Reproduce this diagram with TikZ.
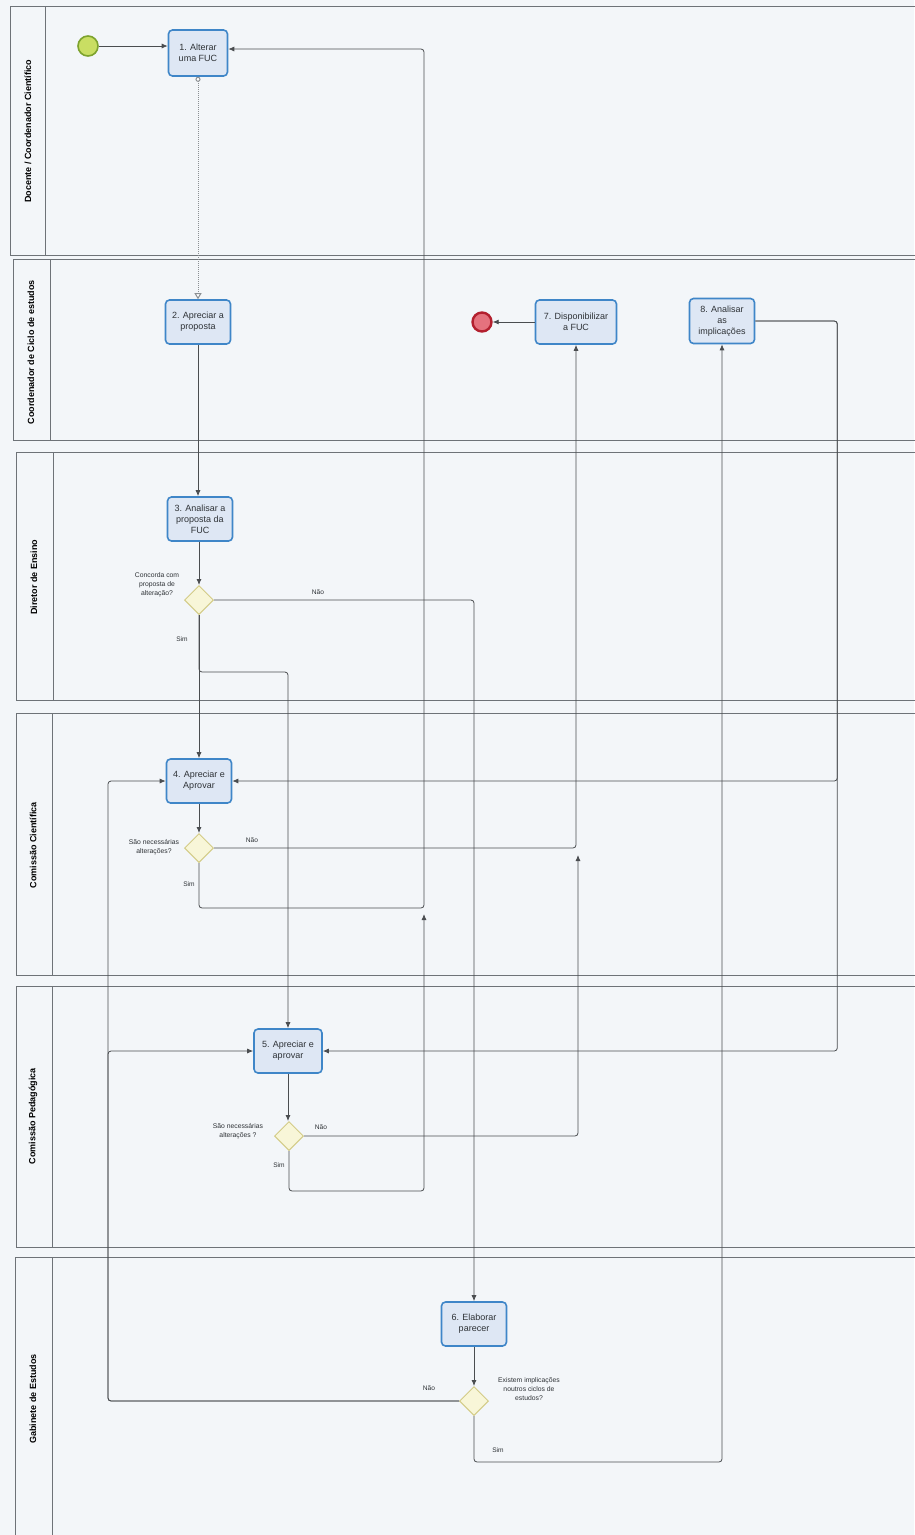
\documentclass[tikz,border=0pt]{standalone}
\usepackage{fontspec}
\setmainfont{Liberation Sans}
\usetikzlibrary{shapes.geometric,arrows.meta,positioning,calc}

\definecolor{bgC}{HTML}{F3F6F9}
\definecolor{laneC}{HTML}{6E7378}
\definecolor{taskB}{HTML}{3F86C8}
\definecolor{taskF}{HTML}{DEE7F4}
\definecolor{gateB}{HTML}{D3CB86}
\definecolor{gateF}{HTML}{F8F6D8}
\definecolor{startB}{HTML}{7DA32E}
\definecolor{startF}{HTML}{C9DE63}
\definecolor{endB}{HTML}{B3202F}
\definecolor{endF}{HTML}{E5727E}
\definecolor{lineC}{HTML}{4A4D50}
\definecolor{textC}{HTML}{2E3236}

\begin{document}
\begin{tikzpicture}
  [x=1pt,y=-1pt,
   laneN/.style={draw=laneC, line width=0.9pt},
   laneT/.style={rotate=90, font=\bfseries\fontsize{9}{10}\selectfont, text=black, inner sep=0pt},
   taskN/.style={draw=taskB, fill=taskF, line width=1.6pt, rounded corners=4pt,
                 minimum width=65pt, minimum height=44pt, align=center, inner sep=1pt,
                 font=\fontsize{9}{11}\selectfont, text=textC},
   gateN/.style={diamond, draw=gateB, fill=gateF, line width=1pt,
                 minimum width=29pt, minimum height=29pt, inner sep=0pt},
   startN/.style={circle, draw=startB, fill=startF, line width=1.6pt, minimum size=20pt, inner sep=0pt},
   endN/.style={circle, draw=endB, fill=endF, line width=2.4pt, minimum size=19pt, inner sep=0pt},
   noteN/.style={align=center, font=\fontsize{6.8}{8.8}\selectfont, text=textC, inner sep=0pt},
   flowL/.style={font=\fontsize{6.6}{7}\selectfont, text=textC, inner sep=0pt},
   flowN/.style={draw=lineC, line width=0.8pt, rounded corners=3pt, -{Latex[length=6pt,width=5pt]}},
   msgN/.style={draw=laneC!80, densely dotted, line width=1pt,
                {Circle[open,length=5pt,fill=white]}-{Triangle[open,length=6pt,width=7pt,fill=white]}},
  ]

 \useasboundingbox (0,0) rectangle (914,1535);
 \fill[bgC] (0,0) rectangle (914,1535);

 % lanes
 \draw[laneN] (10,6) rectangle (930,255);
 \draw[laneN] (45,6) -- (45,255);
 \node[laneT] (l1) at (28,131) {Docente / Coordenador Científico};

 \draw[laneN] (13,259) rectangle (930,440);
 \draw[laneN] (50,259) -- (50,440);
 \node[laneT] (l2) at (31,352) {Coordenador de Ciclo de estudos};

 \draw[laneN] (16,452) rectangle (930,700);
 \draw[laneN] (53,452) -- (53,700);
 \node[laneT] (l3) at (34,577) {Diretor de Ensino};

 \draw[laneN] (16,713) rectangle (930,975);
 \draw[laneN] (52,713) -- (52,975);
 \node[laneT] (l4) at (33,845) {Comissão Científica};

 \draw[laneN] (16,986) rectangle (930,1247);
 \draw[laneN] (52,986) -- (52,1247);
 \node[laneT] (l5) at (33,1116) {Comissão Pedagógica};

 \draw[laneN] (15,1257) rectangle (930,1545);
 \draw[laneN] (52,1257) -- (52,1545);
 \node[laneT] (l6) at (33,1399) {Gabinete de Estudos};

 % events and tasks
 \node[startN] (st) at (88,46) {};
 \node[taskN, minimum width=59pt, minimum height=46pt] (t1) at (198,53) {1. Alterar\\uma FUC};
 \node[taskN] (t2) at (198,322) {2. Apreciar a\\proposta};
 \node[endN] (en) at (482,322) {};
 \node[taskN, minimum width=81pt] (t7) at (576,322) {7. Disponibilizar\\a FUC};
 \node[taskN, minimum height=45pt] (t8) at (722,321) {8. Analisar\\as\\implicações};
 \node[taskN] (t3) at (200,519) {3. Analisar a\\proposta da\\FUC};
 \node[gateN] (g1) at (199,600) {};
 \node[taskN] (t4) at (199,781) {4. Apreciar e\\Aprovar};
 \node[gateN] (g2) at (199,848) {};
 \node[taskN, minimum width=68pt] (t5) at (288,1051) {5. Apreciar e\\aprovar};
 \node[gateN] (g3) at (289,1136) {};
 \node[taskN] (t6) at (474,1324) {6. Elaborar\\parecer};
 \node[gateN] (g4) at (474,1401) {};

 % gateway texts
 \node[noteN] (q1) at (157,585) {Concorda com\\proposta de\\alteração?};
 \node[noteN] (q2) at (154,847) {São necessárias\\alterações?};
 \node[noteN] (q3) at (238,1131) {São necessárias\\alterações ?};
 \node[noteN] (q4) at (529,1389) {Existem implicações\\noutros ciclos de\\estudos?};

 \coordinate (j1) at (424,914);
 \coordinate (j2) at (578,855);
 \coordinate (bus) at (108,1401);

 % flows
 \draw[flowN] (st) -- (st -| t1.west);
 \draw[msgN] (t1.south) -- (t1.south |- t2.north);
 \draw[flowN] (t2) -- (t2 |- t3.north);
 \draw[flowN] (t3.south -| g1) -- (g1);
 \draw[flowN] (g1) -- (g1 |- t4.north);
 \draw[flowN] (g1.south) -- (g1.south |- 0,672) -| (t5.north);
 \draw[flowN] (g1.east) -| (t6.north);
 \draw[flowN] (t4) -- (t4 |- g2.north);
 \draw[flowN] (g2.east) -| (t7.south);
 \draw[flowN] (g2.south) |- (424,908) |- ([yshift=4pt]t1.east);
 \draw[flowN] (t5) -- (t5 |- g3.north);
 \draw[flowN] (g3.east) -| (j2);
 \draw[flowN] (g3.south) -- ++(0,40) -| (j1);
 \draw[flowN] (t6) -- (g4);
 \draw[flowN] (g4.west) -- (bus) |- (t4.west);
 \draw[flowN] (g4.west) -- (bus) |- (t5.west);
 \draw[flowN] (g4.south) -- ++(0,46) -| (t8.south);
 \draw[flowN] (t8.east) -- ++(82,0) |- (t5.east);
 \draw[flowN] (t8.east) -- ++(82,0) |- (t4.east);
 \draw[flowN] (t7) -- (en);

 % flow labels
 \node[flowL] (n1) at (318,592) {Não};
 \node[flowL] (s1) at (182,639) {Sim};
 \node[flowL] (n2) at (252,840) {Não};
 \node[flowL] (s2) at (189,884) {Sim};
 \node[flowL] (n3) at (321,1127) {Não};
 \node[flowL] (s3) at (279,1165) {Sim};
 \node[flowL] (n4) at (429,1388) {Não};
 \node[flowL] (s4) at (498,1450) {Sim};
\end{tikzpicture}
\end{document}
